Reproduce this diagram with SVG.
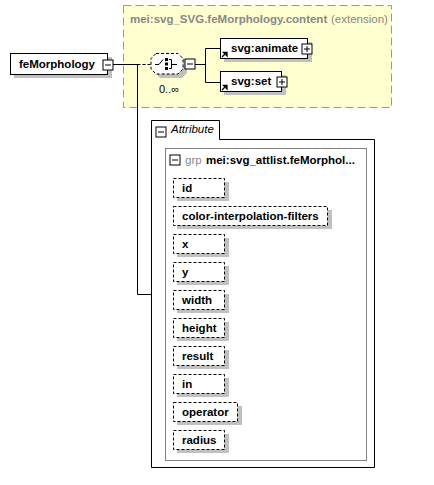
<svg xmlns="http://www.w3.org/2000/svg" width="434" height="485" viewBox="0 0 434 485">
<defs>
<style>
.t{font-family:"Liberation Sans",Arial,sans-serif;font-size:11.5px;font-weight:bold;fill:#000}
.g{font-family:"Liberation Sans",Arial,sans-serif;font-size:11.5px;fill:#888}
.box{fill:#fff;stroke:#000;stroke-width:1}
.att{fill:#fff;stroke:#000;stroke-width:1;stroke-dasharray:3,2}
.sh{fill:#c0c0c0}
.ln{fill:none;stroke:#000;stroke-width:1}
.btn{fill:#fff;stroke:#000;stroke-width:1}
</style>
<g id="minus"><rect class="btn" x="-5" y="-5" width="10" height="10"/><path class="ln" d="M-3,0H3"/></g>
<g id="plus"><rect class="btn" x="-5" y="-5" width="10" height="10"/><path class="ln" d="M-3,0H3M0,-3V3"/></g>
<path id="ref" d="M0,6 L4,2 M1.5,1.5 H5 V5 Z" stroke="#000" stroke-width="1.3" fill="#000"/>
</defs>
<rect width="434" height="485" fill="#fff"/>

<g id="content-ext">
<rect x="123.5" y="5.5" width="268" height="102" fill="#ffffd0" stroke="#999" stroke-dasharray="8,4"/>
<text x="130" y="23" class="g" style="font-weight:bold">mei:svg_SVG.feMorphology.content</text>
<text x="331" y="23" class="g">(extension)</text>
</g>

<g id="connectors">
<path class="ln" d="M113,64.5H137.5M137.5,64V294.5H151"/>
<path class="ln" d="M137.5,64.5H151" stroke-dasharray="3,2"/>
<path class="ln" d="M195,64.5H205.5M205.5,48.5V82.5M205.5,48.5H220M205.5,82.5H220"/>
</g>

<g id="feMorphology">
<rect class="sh" x="14" y="57" width="98" height="21"/>
<rect class="box" x="10.5" y="53.5" width="97" height="21"/>
<text x="19" y="68" class="t">feMorphology</text>
<use href="#minus" x="108" y="65"/>
</g>

<g id="sequence">
<path class="sh" d="M160,57 H182 L187,62 V73 L182,78 H160 L155,73 V62 Z"/>
<path d="M156,53.5 H178 L183,58.5 V69 L178,74 H156 L151,69 V58.5 Z" fill="#fff" stroke="#000" stroke-dasharray="3,2"/>
<path class="ln" d="M155,64.5H159L163,59.5"/>
<rect x="165" y="58" width="3" height="3" fill="#000"/>
<rect x="165" y="62.5" width="3" height="3" fill="#000"/>
<rect x="165" y="67" width="3" height="3" fill="#000"/>
<path class="ln" d="M169,59.5H171.5V68.5H169M171.5,64.5H177"/>
<use href="#minus" x="190" y="64"/>
<text x="159" y="93" class="t" style="font-weight:normal;font-size:11px">0..∞</text>
</g>

<g id="svg-animate">
<rect class="sh" x="224" y="42" width="88" height="20"/>
<rect class="box" x="220.5" y="38.5" width="87" height="20"/>
<use href="#ref" x="222" y="51"/>
<text x="231" y="52" class="t">svg:animate</text>
<use href="#plus" x="307" y="49"/>
</g>

<g id="svg-set">
<rect class="sh" x="224" y="75" width="62" height="20"/>
<rect class="box" x="220.5" y="71.5" width="61" height="20"/>
<use href="#ref" x="222" y="84"/>
<text x="231" y="85" class="t">svg:set</text>
<use href="#plus" x="282" y="82"/>
</g>

<g id="attributes">
<path d="M151.5,120.5H219.5V139.5H374.5V467.5H151.5Z" fill="#fff" stroke="#000"/>
<use href="#minus" x="161" y="132"/>
<text x="171" y="133" class="t" style="font-weight:normal;font-style:italic">Attribute</text>
</g>

<g id="grp">
<rect x="165.5" y="148.5" width="201" height="312" fill="#fff" stroke="#808080"/>
<use href="#minus" x="175" y="160"/>
<text x="185" y="164" class="g">grp</text>
<text x="206" y="164" class="t">mei:svg_attlist.feMorphol...</text>
</g>

<g id="attr-id"><rect class="sh" x="177" y="182" width="52" height="19"/><rect class="att" x="173.5" y="178.5" width="51" height="19"/><text x="182" y="192" class="t">id</text></g>
<g id="attr-cif"><rect class="sh" x="177" y="210" width="155" height="19"/><rect class="att" x="173.5" y="206.5" width="154" height="19"/><text x="182" y="220" class="t">color-interpolation-filters</text></g>
<g id="attr-x"><rect class="sh" x="177" y="238" width="52" height="19"/><rect class="att" x="173.5" y="234.5" width="51" height="19"/><text x="182" y="248" class="t">x</text></g>
<g id="attr-y"><rect class="sh" x="177" y="266" width="52" height="19"/><rect class="att" x="173.5" y="262.5" width="51" height="19"/><text x="182" y="276" class="t">y</text></g>
<g id="attr-width"><rect class="sh" x="177" y="294" width="52" height="19"/><rect class="att" x="173.5" y="290.5" width="51" height="19"/><text x="182" y="304" class="t">width</text></g>
<g id="attr-height"><rect class="sh" x="177" y="322" width="52" height="19"/><rect class="att" x="173.5" y="318.5" width="51" height="19"/><text x="182" y="332" class="t">height</text></g>
<g id="attr-result"><rect class="sh" x="177" y="350" width="52" height="19"/><rect class="att" x="173.5" y="346.5" width="51" height="19"/><text x="182" y="360" class="t">result</text></g>
<g id="attr-in"><rect class="sh" x="177" y="378" width="52" height="19"/><rect class="att" x="173.5" y="374.5" width="51" height="19"/><text x="182" y="388" class="t">in</text></g>
<g id="attr-operator"><rect class="sh" x="177" y="406" width="65" height="19"/><rect class="att" x="173.5" y="402.5" width="64" height="19"/><text x="182" y="416" class="t">operator</text></g>
<g id="attr-radius"><rect class="sh" x="177" y="434" width="52" height="19"/><rect class="att" x="173.5" y="430.5" width="51" height="19"/><text x="182" y="444" class="t">radius</text></g>
</svg>
